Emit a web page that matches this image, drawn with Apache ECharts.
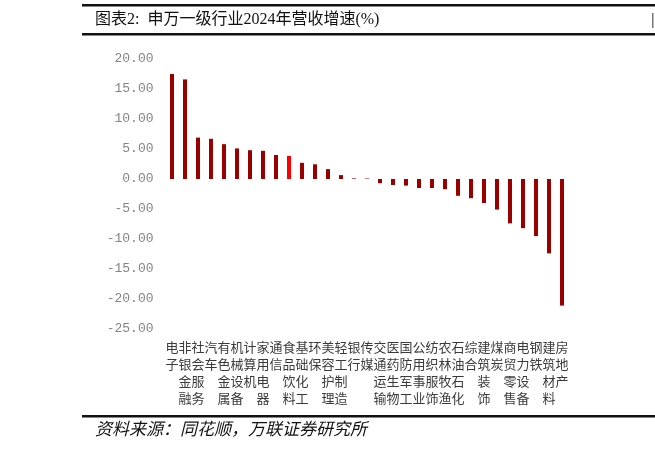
<!DOCTYPE html>
<html>
<head>
<meta charset="utf-8">
<script src="https://cdn.jsdelivr.net/npm/echarts@6/dist/echarts.min.js"></script>
<style>
html,body{margin:0;padding:0;background:#fff;}
#chart{width:655px;height:449px;}
</style>
</head>
<body>
<div id="chart"></div>
<script>
const categories = ['电子','非银金融','社会服务','汽车','有色金属','机械设备','计算机','家用电器','通信','食品饮料','基础化工','环保','美容护理','轻工制造','银行','传媒','交通运输','医药生物','国防军工','公用事业','纺织服饰','农林牧渔','石油石化','综合','建筑装饰','煤炭','商贸零售','电力设备','钢铁','建筑材料','房地产'];
const growth = [17.5,16.6,6.9,6.7,5.8,5.1,4.8,4.7,4.0,3.85,2.7,2.45,1.65,0.65,0.1,0.08,-0.7,-1.0,-1.1,-1.5,-1.5,-1.7,-2.8,-3.2,-4.0,-5.1,-7.4,-8.2,-9.5,-12.4,-21.1];
const highlight = '食品饮料';
const yTicks = {min:-25, max:20, interval:5};

const chart = echarts.init(document.getElementById('chart'));
chart.setOption({
  animation:false,
  backgroundColor:'#fff',
  grid:{left:165.5, right:86.5, top:59, bottom:120},
  xAxis:{
    type:'category',
    data:categories,
    axisLine:{show:false, onZero:false},
    axisTick:{show:false},
    axisLabel:{
      interval:0,
      margin:10,
      fontSize:13,
      lineHeight:17,
      color:'#3a3a3a',
      fontFamily:'"Noto Sans CJK SC"',
      formatter:v=>v.split('').join('\n')
    }
  },
  yAxis:{
    type:'value',
    min:yTicks.min, max:yTicks.max, interval:yTicks.interval,
    splitLine:{show:false},
    axisLine:{show:false},
    axisTick:{show:false},
    axisLabel:{
      margin:12,
      fontSize:13,
      padding:[4,0,0,0],
      color:'#858585',
      fontFamily:'"Liberation Mono","DejaVu Sans Mono",monospace',
      formatter:v=>v.toFixed(2)
    }
  },
  series:[{
    type:'bar',
    barWidth:4,
    data:growth.map((v,i)=>({value:v, itemStyle:{color: categories[i]===highlight ? '#ff0000' : '#990000'}}))
  }],
  graphic:[
    {type:'rect', shape:{x:82, y:4, width:573, height:2.5}, style:{fill:'#111'}},
    {type:'rect', shape:{x:82, y:33, width:573, height:2.5}, style:{fill:'#111'}},
    {type:'text', left:95, top:12, style:{text:'图表2:  申万一级行业2024年营收增速(%)', font:'16px "Liberation Serif","Noto Sans CJK SC"', fill:'#111'}},
    {type:'rect', shape:{x:652, y:13, width:1.5, height:15}, style:{fill:'#777'}},
    {type:'rect', shape:{x:82, y:415, width:573, height:2.5}, style:{fill:'#111'}},
    {type:'text', left:95, top:420, style:{text:'资料来源：同花顺，万联证券研究所', font:'italic 17px "Noto Sans CJK SC"', fill:'#111'}}
  ]
});
</script>
</body>
</html>
